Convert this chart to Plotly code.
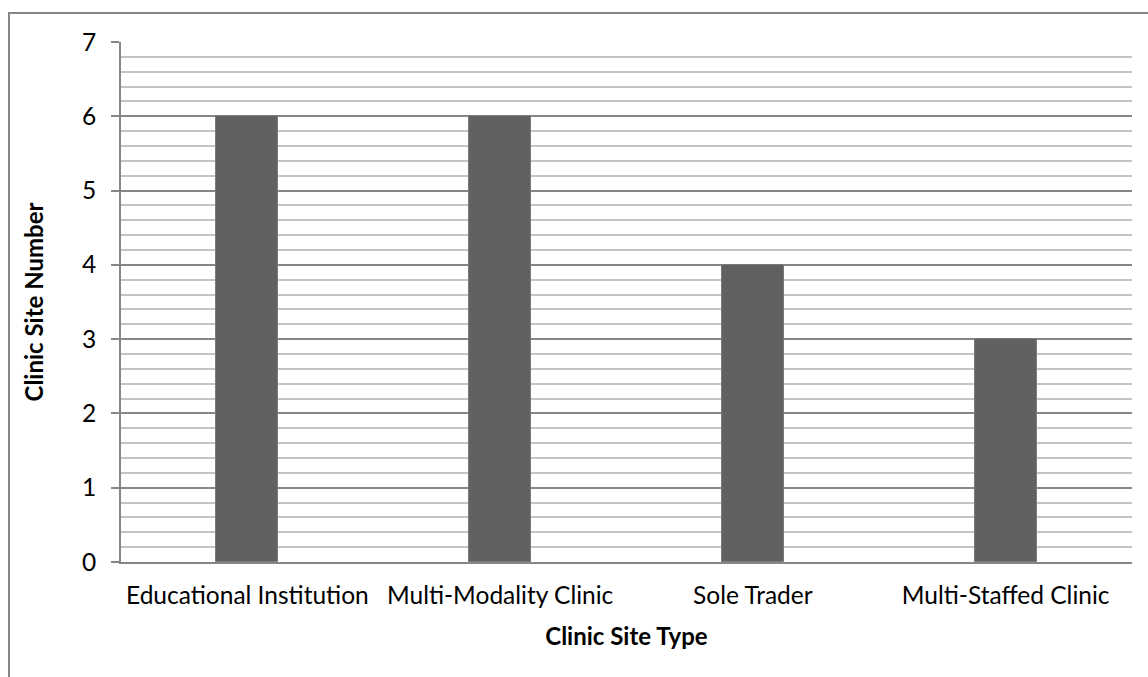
import plotly.graph_objects as go

# Clinic site counts by type
site_types = ["Educational Institution", "Multi-Modality Clinic", "Sole Trader", "Multi-Staffed Clinic"]
site_counts = [6, 6, 4, 3]
y_ticks = [0, 1, 2, 3, 4, 5, 6, 7]

W, H = 1148, 677
L, R, T, B = 121, 16, 42, 115
pw, ph = W - L - R, H - T - B

FONT = "Lato"
FS = 24.5

fig = go.Figure(
    go.Bar(
        x=site_types,
        y=site_counts,
        width=0.245,
        marker=dict(color="#616161", line=dict(color="#7a7a7a", width=1)),
    )
)

fig.update_layout(
    width=W,
    height=H,
    margin=dict(l=L, r=R, t=T, b=B),
    paper_bgcolor="white",
    plot_bgcolor="white",
    showlegend=False,
    font=dict(family=FONT, size=FS, color="black"),
    bargap=0,
)

fig.update_xaxes(
    showline=True,
    linecolor="#868686",
    linewidth=2,
    ticks="",
    tickfont=dict(size=FS),
    ticklabelstandoff=11,
    title=dict(text="<b>Clinic Site Type</b>", font=dict(size=24), standoff=20),
    showgrid=False,
)

fig.update_yaxes(
    range=[0, 7],
    tickvals=y_ticks,
    showline=True,
    linecolor="#868686",
    linewidth=2,
    ticks="outside",
    ticklen=8,
    tickwidth=2,
    tickcolor="#868686",
    tickfont=dict(size=FS),
    ticklabelstandoff=10,
    showgrid=True,
    gridcolor="#868686",
    gridwidth=2,
    zeroline=False,
    minor=dict(dtick=0.2, showgrid=True, gridcolor="#c4c4c4", gridwidth=2, ticks=""),
    title=dict(text="<b>Clinic Site Number</b>", font=dict(size=24), standoff=31),
)

# Chart frame around the whole figure area
x0 = (9 - L) / pw
y1 = (H - B - 13) / ph
fig.add_shape(
    type="rect",
    xref="paper",
    yref="paper",
    x0=x0,
    x1=(W + 10 - L) / pw,
    y0=-(B + 10) / ph,
    y1=y1,
    line=dict(color="#868686", width=2),
    fillcolor="rgba(0,0,0,0)",
    layer="below",
)

fig.write_html("out.html")
